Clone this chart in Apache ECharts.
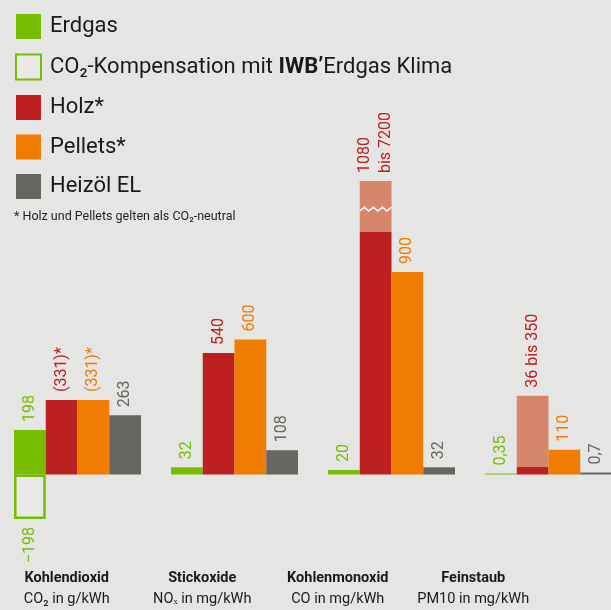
<!DOCTYPE html>
<html>
<head>
<meta charset="utf-8">
<script src="https://cdn.jsdelivr.net/npm/echarts@6/dist/echarts.min.js"></script>
<style>
  html, body { margin: 0; padding: 0; background: #e5e5e3; }
  #main { width: 611px; height: 610px; }
</style>
</head>
<body>
<div id="main"></div>
<script>
const categories = ['Kohlendioxid', 'Stickoxide', 'Kohlenmonoxid', 'Feinstaub']
const units = ['CO₂ in g/kWh', 'NOₓ in mg/kWh', 'CO in mg/kWh', 'PM10 in mg/kWh']

const erdgas = [198, 32, 20, 0.35]
const kompensation = [-198, null, null, null]
const holz = [331, 540, 1080, 36]
const holzMax = [null, null, 7200, 350]
const pellets = [331, 600, 900, 110]
const heizoel = [263, 108, 32, 0.7]

// axis break for the tall CO value
const breakStart = 1170
const breakEnd = 7085

const GREEN = '#76bd00'
const RED = '#bd2020'
const ORANGE = '#f07c00'
const GREY = '#676560'
const SALMON = '#d6866a'
const BG = '#e5e5e3'
const FONT = 'Roboto'
const BAR_W = 31.75

const kompName = 'CO₂-Kompensation mit IWB’Erdgas Klima'

const fmt = v => (v < 0 ? '−' : '') + String(Math.abs(v)).replace('.', ',')

const valueLabel = (color, extra) => Object.assign({
  show: true,
  position: 'top',
  rotate: 90,
  align: 'left',
  verticalAlign: 'middle',
  distance: 8,
  color: color,
  fontFamily: FONT,
  fontSize: 16,
}, extra || {})

const chart = echarts.init(document.getElementById('main'))

const option = {
  backgroundColor: BG,
  animation: false,
  textStyle: { fontFamily: FONT },
  title: {
    text: '* Holz und Pellets gelten als CO₂-neutral',
    left: 14,
    top: 210,
    padding: 0,
    textStyle: { fontFamily: FONT, fontSize: 12.5, fontWeight: 'normal', color: '#1e1e1e' },
  },
  legend: {
    orient: 'vertical',
    left: 15,
    top: 14,
    padding: 0,
    itemWidth: 25,
    itemHeight: 25,
    itemGap: 14.5,
    icon: 'rect',
    selectedMode: false,
    textStyle: {
      fontFamily: FONT,
      fontSize: 22,
      color: '#1a1a1a',
      padding: [0, 0, 0, 4],
      rich: { b: { fontFamily: FONT, fontSize: 22, fontWeight: 'bold', color: '#1a1a1a' } },
    },
    formatter: name => name.replace('IWB’', '{b|IWB’}'),
    data: [
      'Erdgas',
      { name: kompName, itemStyle: { color: '#e9e9e7', borderColor: GREEN, borderWidth: 2 } },
      'Holz*',
      'Pellets*',
      'Heizöl EL',
    ],
  },
  grid: [
    { left: -1, width: 628, top: 181, height: 383.5, outerBoundsMode: 'none' },
    { left: -1, width: 542, top: 560, height: 4, outerBoundsMode: 'none' },
  ],
  xAxis: [
    {
      type: 'category',
      gridIndex: 0,
      data: categories,
      axisLine: { show: false },
      axisTick: { show: false },
      axisLabel: { show: false },
    },
    {
      type: 'category',
      gridIndex: 1,
      data: categories,
      axisLine: { show: false },
      axisTick: { show: false },
      axisLabel: {
        interval: 0,
        margin: 4,
        formatter: (v, i) => '{b|' + v + '}\n{n|' + units[i] + '}',
        rich: {
          b: { fontFamily: FONT, fontSize: 14.5, fontWeight: 'bold', color: '#1a1a1a', lineHeight: 21 },
          n: { fontFamily: FONT, fontSize: 14.5, color: '#1a1a1a', lineHeight: 21 },
        },
      },
    },
  ],
  yAxis: [
    {
      type: 'value',
      gridIndex: 0,
      min: -400,
      max: 7200,
      breaks: [{ start: breakStart, end: breakEnd, gap: 20 }],
      breakArea: { show: false },
      axisLine: { show: false },
      axisTick: { show: false },
      axisLabel: { show: false },
      splitLine: { show: false },
    },
    { type: 'value', gridIndex: 1, show: false },
  ],
  series: [
    {
      name: 'Erdgas',
      type: 'bar',
      stack: 'e',
      barWidth: BAR_W,
      barGap: '0%',
      barMinHeight: 1,
      itemStyle: { color: GREEN },
      label: valueLabel(GREEN, { formatter: p => fmt(p.value) }),
      data: erdgas,
    },
    {
      name: kompName,
      type: 'bar',
      stack: 'e',
      barWidth: BAR_W,
      barGap: '0%',
      itemStyle: { color: '#e9e9e7', borderColor: GREEN, borderWidth: 2.5 },
      label: valueLabel(GREEN, { position: 'bottom', align: 'right', formatter: p => fmt(p.value) }),
      data: kompensation,
    },
    {
      name: 'Holz*',
      type: 'bar',
      stack: 'h',
      barWidth: BAR_W,
      barGap: '0%',
      itemStyle: { color: RED },
      label: valueLabel(RED, {
        formatter: p => holzMax[p.dataIndex] != null ? '' : (p.dataIndex === 0 ? '(' + fmt(p.value) + ')*' : fmt(p.value)),
      }),
      data: holz,
    },
    {
      name: 'Holz Bereich',
      type: 'bar',
      stack: 'h',
      barWidth: BAR_W,
      barGap: '0%',
      itemStyle: { color: SALMON },
      label: valueLabel(RED, {
        lineHeight: 21,
        formatter: p => {
          const lo = holz[p.dataIndex]
          const hi = holzMax[p.dataIndex]
          return fmt(lo) + (hi >= 1000 ? '\n' : ' ') + 'bis ' + fmt(hi)
        },
      }),
      data: holzMax.map((v, i) => (v == null ? null : v - holz[i])),
    },
    {
      name: 'Pellets*',
      type: 'bar',
      stack: 'p',
      barWidth: BAR_W,
      barGap: '0%',
      itemStyle: { color: ORANGE },
      label: valueLabel(ORANGE, {
        formatter: p => (p.dataIndex === 0 ? '(' + fmt(p.value) + ')*' : fmt(p.value)),
      }),
      data: pellets,
    },
    {
      name: 'Heizöl EL',
      type: 'bar',
      stack: 'o',
      barWidth: BAR_W,
      barGap: '0%',
      barMinHeight: 2,
      itemStyle: { color: GREY },
      label: valueLabel(GREY, { formatter: p => fmt(p.value) }),
      data: heizoel,
    },
    {
      // white zigzag marking the axis break on the Holz range bar
      name: 'break',
      type: 'custom',
      z: 10,
      silent: true,
      renderItem: (params, api) => {
        const lo = api.coord([api.value(0), api.value(1)])
        const hi = api.coord([api.value(0), api.value(2)])
        const y = (lo[1] + hi[1]) / 2
        const x0 = lo[0] - BAR_W
        const steps = 7
        const pts = []
        for (let k = 0; k <= steps; k++) {
          pts.push([x0 + (BAR_W * k) / steps, y + (k % 2 === 0 ? 2 : -2)])
        }
        return {
          type: 'polyline',
          shape: { points: pts },
          style: { stroke: '#f2f2f0', lineWidth: 1.6, fill: null },
        }
      },
      data: holzMax.map((v, i) => (v != null && v > breakEnd ? [i, breakStart, breakEnd] : null)).filter(d => d),
    },
  ],
}

chart.setOption(option)
</script>
</body>
</html>
